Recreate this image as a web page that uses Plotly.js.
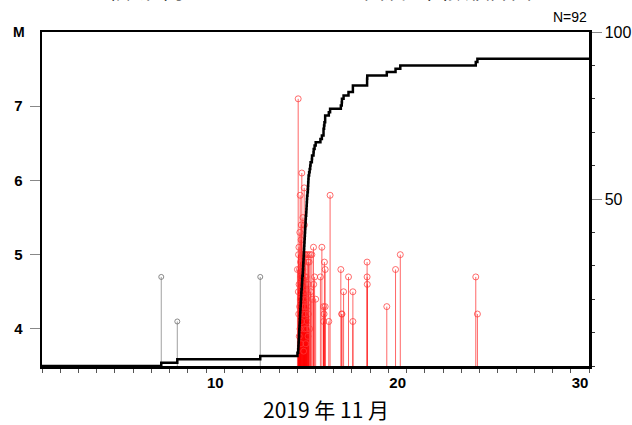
<!DOCTYPE html>
<html>
<head>
<meta charset="utf-8">
<script src="https://cdn.plot.ly/plotly-3.0.1.min.js"></script>
<style>html,body{margin:0;padding:0;background:#fff;}#chart{width:632px;height:425px;}</style>
</head>
<body>
<div id="chart"></div>
<script>
// Days from 2019-11-01 00:00 (JST) and magnitudes
const grayDays = [6.54, 7.42, 11.97];
const grayMags = [4.7, 4.1, 4.7];

const redDays = [
  14.01, 14.05, 14.06, 14.07, 14.08, 14.09, 14.10, 14.11, 14.12, 14.13,
  14.14, 14.15, 14.16, 14.17, 14.18, 14.19, 14.20, 14.21, 14.22, 14.23,
  14.25, 14.26, 14.27, 14.28, 14.30, 14.31, 14.32, 14.33, 14.34, 14.35,
  14.36, 14.37, 14.38, 14.39, 14.40, 14.41, 14.42, 14.43,
  14.44, 14.45, 14.46, 14.47, 14.49, 14.50, 14.51, 14.52,
  14.53, 14.54, 14.56, 14.58, 14.59, 14.60, 14.61, 14.62,
  14.65, 14.68, 14.71, 14.73,
  14.80, 14.81,
  14.89, 14.90, 14.95, 15.01,
  15.27, 15.35,
  15.44, 15.44, 15.47, 15.49, 15.53, 15.53,
  15.73, 15.80,
  16.39, 16.44, 16.45, 16.54,
  16.81,
  17.05, 17.05,
  17.83, 17.83, 17.84,
  18.91, 19.39, 19.65,
  23.79, 23.88
];
const redMags = [
  4.8, 7.1, 4.5, 5.0, 4.2, 5.1, 4.6, 3.9, 4.8, 4.3,
  5.3, 4.0, 5.8, 4.4, 4.9, 3.8, 4.7, 5.2, 5.4, 4.1,
  6.1, 4.6, 4.3, 5.0, 4.8, 5.5, 4.2, 4.5, 5.0, 3.7,
  4.9, 4.4, 5.9, 5.4, 4.0, 4.7, 4.3, 5.0,
  5.0, 4.2, 4.6, 3.8, 4.7, 4.4, 4.0, 4.5,
  5.0, 4.1, 4.3, 4.9, 3.9, 4.6, 4.2, 5.0,
  4.9, 4.0, 5.0, 4.5,
  5.0, 4.4,
  5.1, 4.6, 4.7, 4.4,
  4.7, 5.1,
  4.3, 4.1, 4.2, 4.9, 4.8, 4.3,
  4.1, 5.8,
  4.8, 4.2, 4.2, 4.5,
  4.7,
  4.5, 4.1,
  4.9, 4.7, 4.6,
  4.3, 4.8, 5.0,
  4.7, 4.2
];

const xTickVals = [10, 20, 30];
const xTickText = ['10', '20', '30'];
const yTickVals = [4, 5, 6, 7];
const y2TickVals = [50, 100];
const totalLabel = 'N=92';

const M_MIN = 3.5;

// cumulative count (step) from all events
const allDays = grayDays.concat(redDays).slice().sort((a, b) => a - b);
const cumX = [0];
const cumY = [0];
allDays.forEach((d, i) => { cumX.push(d); cumY.push(i + 1); });
cumX.push(30); cumY.push(allDays.length);

const stem = (mags, color) => ({
  type: 'data', symmetric: false,
  array: mags.map(() => 0),
  arrayminus: mags.map(m => m - M_MIN),
  color: color, thickness: 1, width: 0
});

const traces = [
  {
    x: grayDays, y: grayMags, type: 'scatter', mode: 'markers',
    marker: {symbol: 'circle-open', size: 5, color: 'rgba(110,110,110,0.8)', line: {width: 1}},
    error_y: stem(grayMags, 'rgba(120,120,120,0.7)'),
    cliponaxis: false, hoverinfo: 'skip'
  },
  {
    x: redDays, y: redMags, type: 'scatter', mode: 'markers',
    marker: {symbol: 'circle-open', size: 6, color: 'rgba(255,60,60,0.75)', line: {width: 1}},
    error_y: stem(redMags, 'rgba(255,0,0,0.6)'),
    cliponaxis: false, hoverinfo: 'skip'
  },
  {
    x: cumX, y: cumY, type: 'scatter', mode: 'lines', yaxis: 'y2',
    line: {color: '#000', width: 2.5, shape: 'hv'},
    hoverinfo: 'skip'
  }
];

const layout = {
  width: 632, height: 425,
  margin: {l: 42, r: 43, t: 32, b: 59},
  paper_bgcolor: '#fff', plot_bgcolor: '#fff',
  showlegend: false,
  font: {family: 'Liberation Sans, Arial, sans-serif', color: '#000'},
  xaxis: {
    range: [0, 30], showgrid: false, zeroline: false,
    tickmode: 'array', tickvals: xTickVals, ticktext: xTickText,
    ticks: 'outside', ticklen: 4, tickcolor: '#555', tickwidth: 1,
    ticklabelshift: -9, ticklabelstandoff: -3,
    tickfont: {family: 'Liberation Sans, Arial, sans-serif', size: 15, weight: 'bold'},
    minor: {tickmode: 'linear', tick0: 0, dtick: 1, ticks: 'outside', ticklen: 4, tickcolor: '#555', tickwidth: 1},
    showline: true, linecolor: '#000', linewidth: 2.5, mirror: true
  },
  yaxis: {
    range: [3.5, 8.0], showgrid: false, zeroline: false,
    tickmode: 'array', tickvals: yTickVals,
    ticks: 'outside', ticklen: 10, tickcolor: '#888', tickwidth: 1,
    ticklabelstandoff: 4,
    tickfont: {family: 'Liberation Sans, Arial, sans-serif', size: 15, weight: 'bold'},
    showline: true, linecolor: '#000', linewidth: 2.5
  },
  yaxis2: {
    range: [0, 100], overlaying: 'y', side: 'right', showgrid: false, zeroline: false,
    tickmode: 'array', tickvals: y2TickVals,
    ticks: 'outside', ticklen: 10, tickcolor: '#888', tickwidth: 1,
    ticklabelstandoff: 0,
    tickfont: {family: 'Liberation Sans, Arial, sans-serif', size: 16},
    minor: {tickmode: 'linear', tick0: 0, dtick: 10, ticks: 'outside', ticklen: 3, tickcolor: '#333', tickwidth: 1},
    showline: true, linecolor: '#000', linewidth: 2.5
  },
  annotations: [
    {xref: 'paper', yref: 'paper', x: -0.028, y: 1.0, xanchor: 'right', yanchor: 'middle',
     text: 'M', showarrow: false, font: {size: 14, weight: 'bold'}},
    {xref: 'paper', yref: 'paper', x: 1.0, y: 1.045, xanchor: 'right', yanchor: 'middle',
     text: totalLabel, showarrow: false, font: {size: 14}},
    {xref: 'paper', yref: 'paper', x: 0.52, y: -0.128, xanchor: 'center', yanchor: 'middle',
     text: '2019 年 11 月', showarrow: false,
     font: {family: 'Noto Sans CJK JP, sans-serif', size: 21}},
    {xref: 'paper', yref: 'paper', x: 0.21, y: 1.128, xanchor: 'center', yanchor: 'middle',
     text: '領域a内の', showarrow: false,
     font: {family: 'Noto Sans CJK JP, sans-serif', size: 21}},
    {xref: 'paper', yref: 'paper', x: 0.71, y: 1.128, xanchor: 'center', yanchor: 'middle',
     text: 'M-T図及び回数積算図', showarrow: false,
     font: {family: 'Noto Sans CJK JP, sans-serif', size: 21}}
  ]
};

Plotly.newPlot('chart', traces, layout, {staticPlot: true, displayModeBar: false});
</script>
</body>
</html>
